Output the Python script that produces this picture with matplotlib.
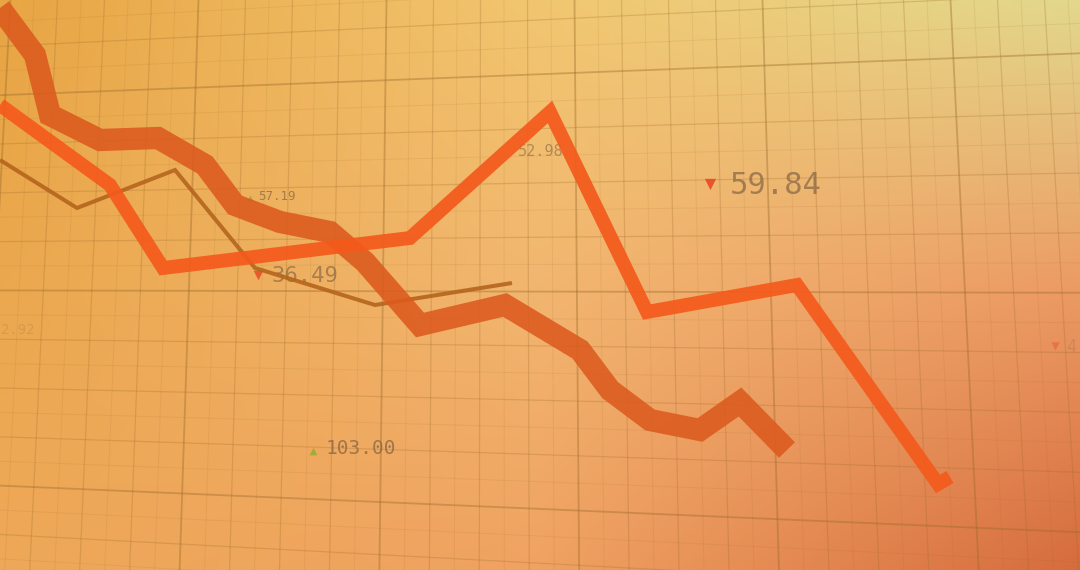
import numpy as np
import matplotlib.pyplot as plt

# series values (x = position along the time axis, y = level, screen-down)
thick_x = [0, 35, 50, 100, 158, 205, 235, 280, 330, 365, 420, 505, 580, 610, 650, 700, 740, 787]
thick_y = [8, 55, 115, 140, 138, 165, 205, 222, 232, 262, 325, 305, 350, 390, 420, 430, 402, 450]

mid_x = [0, 110, 163, 410, 550, 647, 797, 938, 950]
mid_y = [105, 185, 268, 238, 112, 312, 285, 484, 477]

thin_x = [0, 77, 175, 255, 375, 512]
thin_y = [160, 208, 170, 268, 305, 283]

# floating ticker labels
label_text = ['57.19', '36.49', '52.98', '59.84', '103.00', '2.92', '4']
label_x = [258, 272, 518, 730, 326, 1, 1066]
label_y = [197, 276, 151, 185, 449, 330, 347]
label_size = [9, 16, 11, 22, 14, 10, 12]
label_dir = ['up', 'down', 'none', 'down', 'up', 'none', 'down']
label_alpha = [0.75, 0.7, 0.6, 0.75, 0.8, 0.22, 0.25]

W, H = 1080, 570

fig = plt.figure(figsize=(10.8, 5.7), dpi=100)
ax = fig.add_axes([0, 0, 1, 1])
ax.set_xlim(0, W)
ax.set_ylim(H, 0)
ax.axis('off')

# background gradient from a 3x3 set of colours
corners = np.array([
    [[232, 165, 68], [242, 198, 112], [226, 216, 140]],
    [[235, 168, 78], [242, 182, 112], [236, 155, 100]],
    [[238, 168, 88], [240, 162, 98], [214, 108, 62]],
], dtype=float) / 255
u = np.linspace(0, 1, 216)
v = np.linspace(0, 1, 114)
rows = np.stack([np.stack([np.interp(u, [0, .5, 1], corners[r, :, c]) for c in range(3)], -1)
                 for r in range(3)])
bg = np.stack([np.stack([np.interp(v, [0, .5, 1], rows[:, i, c]) for i in range(len(u))], -1)
               for c in range(3)], -1)
ax.imshow(bg, extent=(0, W, H, 0), aspect='auto', interpolation='bicubic', zorder=0)

# perspective grid
gcol = '#9a6a2a'
yy = np.linspace(0, H, 50)
for i, x0 in enumerate(np.arange(-60, 1250, 23.5)):
    xs = 500 + (x0 - 500) * (1 + 0.00011 * yy)
    if i % 8 == 3:
        a, lw = 0.4, 1.3
    elif i % 2 == 1:
        a, lw = 0.26, 0.9
    else:
        a, lw = 0.12, 0.7
    ax.plot(xs, yy, color=gcol, alpha=a, lw=lw, zorder=1)
xx = np.linspace(0, W, 50)
for i, y0 in enumerate(np.arange(-100, 700, 24.4)):
    ys = 280 + (y0 - 280) * (1 + 0.00021 * xx)
    if i % 8 == 0:
        a, lw = 0.4, 1.3
    elif i % 2 == 0:
        a, lw = 0.26, 0.9
    else:
        a, lw = 0.12, 0.7
    ax.plot(xx, ys, color=gcol, alpha=a, lw=lw, zorder=1)

# labels
for t, x, y, s, d, a in zip(label_text, label_x, label_y, label_size, label_dir, label_alpha):
    ax.text(x, y, t, fontsize=s, family='DejaVu Sans Mono', color='#8a6a45',
            alpha=a, va='center', ha='left', zorder=2)
    if d == 'up':
        ax.scatter([x - s * 0.9], [y + s * 0.15], marker='^', s=s * 2.2,
                   color='#8fae2a', alpha=a, lw=0, zorder=2)
    elif d == 'down':
        ax.scatter([x - s * 0.9], [y - s * 0.05], marker='v', s=s * 3,
                   color='#e8502a', alpha=min(1, a + 0.2), lw=0, zorder=2)

# lines
ax.plot(thin_x, thin_y, color='#b5651d', lw=2.9, alpha=0.9,
        solid_joinstyle='miter', solid_capstyle='butt', zorder=3)
ax.plot(thick_x, thick_y, color='#dc5a1e', lw=16, alpha=0.88,
        solid_joinstyle='miter', solid_capstyle='butt', zorder=4)
ax.plot(mid_x, mid_y, color='#f45a1c', lw=10, alpha=0.92,
        solid_joinstyle='miter', solid_capstyle='butt', zorder=5)

fig.savefig('out.png', dpi=100)
